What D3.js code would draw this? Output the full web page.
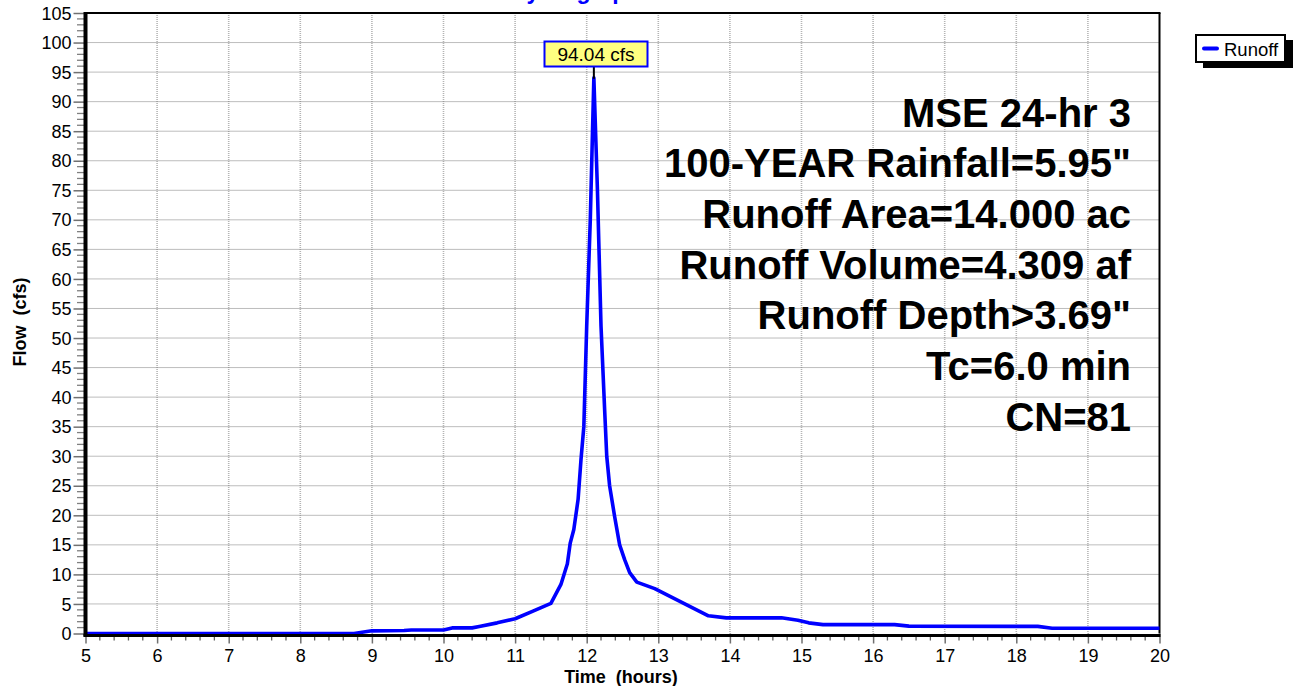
<!DOCTYPE html>
<html>
<head>
<meta charset="utf-8">
<script src="https://cdn.jsdelivr.net/npm/d3@7"></script>
<style>
html,body{margin:0;padding:0;background:#fff;}
svg{display:block;font-family:Arial,"Liberation Sans",sans-serif;}
</style>
</head>
<body>
<svg id="chart" width="1294" height="686"></svg>
<script>
// ---- data ----
const timeHours = [5, 8.75, 9.0, 9.45, 9.55, 10.0, 10.12, 10.4, 10.5, 10.75, 11.0, 11.25, 11.5, 11.64, 11.73, 11.77, 11.82, 11.88, 11.92, 11.96, 12.0, 12.05, 12.1, 12.15, 12.2, 12.25, 12.28, 12.32, 12.39, 12.46, 12.53, 12.6, 12.7, 12.95, 13.7, 13.95, 14.72, 14.95, 15.1, 15.3, 16.3, 16.5, 18.3, 18.5, 20];
const runoffCfs = [0, 0, 0.45, 0.5, 0.6, 0.6, 0.95, 0.95, 1.2, 1.8, 2.5, 3.8, 5.1, 8.3, 11.8, 15.3, 17.6, 22.7, 29.4, 35, 52, 70, 94.04, 75, 52, 38, 30, 25, 19.8, 15, 12.5, 10.3, 8.7, 7.6, 3.0, 2.65, 2.65, 2.25, 1.8, 1.5, 1.5, 1.25, 1.2, 0.9, 0.9];
const xTickValues = [5, 6, 7, 8, 9, 10, 11, 12, 13, 14, 15, 16, 17, 18, 19, 20];
const yTickValues = [0, 5, 10, 15, 20, 25, 30, 35, 40, 45, 50, 55, 60, 65, 70, 75, 80, 85, 90, 95, 100, 105];
const peakTime = 12.1;
const peakFlow = 94.04;
const peakLabel = "94.04 cfs";
const infoLines = ["MSE 24-hr 3", "100-YEAR Rainfall=5.95\"", "Runoff Area=14.000 ac", "Runoff Volume=4.309 af", "Runoff Depth>3.69\"", "Tc=6.0 min", "CN=81"];
const chartTitle = "Hydrograph";
const xTitle = "Time  (hours)";
const yTitle = "Flow  (cfs)";
const seriesName = "Runoff";

// ---- layout ----
const svg = d3.select("#chart");
const L = 85.5, R = 1159.5, T = 13, B = 633.5;
const x = d3.scaleLinear().domain([5, 20]).range([L, R]);
const y = d3.scaleLinear().domain([0, 105]).range([B, T]);

// title (clipped at top, as in the reference)
svg.append("text").attr("x", 510).attr("y", -1)
  .attr("font-size", 23).attr("font-weight", "bold").attr("fill", "#0000ff")
  .text(chartTitle);

// vertical grid
svg.append("g").selectAll("line").data(xTickValues.filter(d => d > 5 && d < 20)).join("line")
  .attr("x1", d => x(d)).attr("x2", d => x(d)).attr("y1", T).attr("y2", B)
  .attr("stroke", "#b4b4b4").attr("stroke-width", 1.6).attr("stroke-dasharray", "1,1");
// horizontal grid
svg.append("g").selectAll("line").data(yTickValues.filter(d => d > 0)).join("line")
  .attr("x1", L).attr("x2", R).attr("y1", d => y(d)).attr("y2", d => y(d))
  .attr("stroke", "#7a7a7a").attr("stroke-width", 1).attr("stroke-dasharray", "1,1");

// minor ticks y
const yMinor = d3.range(0, 106, 1).filter(d => d % 5 !== 0);
svg.append("g").selectAll("line").data(yMinor).join("line")
  .attr("x1", 77).attr("x2", L).attr("y1", d => y(d)).attr("y2", d => y(d))
  .attr("stroke", "#808080").attr("stroke-width", 1.3);
// minor ticks x
const xMinor = d3.range(0, 76).map(i => 5 + i * 0.2).filter(d => Math.abs(d - Math.round(d)) > 0.01);
svg.append("g").selectAll("line").data(xMinor).join("line")
  .attr("x1", d => x(d)).attr("x2", d => x(d)).attr("y1", B + 2).attr("y2", 640.5)
  .attr("stroke", "#606060").attr("stroke-width", 1.3);

// y axis
const yAxis = d3.axisLeft(y).tickValues(yTickValues).tickSize(12).tickPadding(2);
const gy = svg.append("g").attr("transform", `translate(${L},0)`).call(yAxis);
gy.select(".domain").remove();
gy.selectAll(".tick line").attr("stroke", "#707070").attr("stroke-width", 1.5);
gy.selectAll(".tick text").attr("font-size", 18).attr("fill", "#000").attr("font-family", "Arial, 'Liberation Sans', sans-serif").attr("dy", "0.34em");

// x axis
const xAxis = d3.axisBottom(x).tickValues(xTickValues).tickSize(10).tickPadding(5.5);
const gx = svg.append("g").attr("transform", `translate(0,${B})`).call(xAxis);
gx.select(".domain").remove();
gx.selectAll(".tick line").attr("stroke", "#707070").attr("stroke-width", 1.5);
gx.selectAll(".tick text").attr("font-size", 18).attr("fill", "#000").attr("font-family", "Arial, 'Liberation Sans', sans-serif");

// borders
svg.append("line").attr("x1", L).attr("x2", R + 1).attr("y1", T).attr("y2", T).attr("stroke", "#000").attr("stroke-width", 2);
svg.append("line").attr("x1", R).attr("x2", R).attr("y1", T).attr("y2", B).attr("stroke", "#000").attr("stroke-width", 2);

// data line
const line = d3.line().x((d, i) => x(timeHours[i])).y(d => y(d));
svg.append("path").datum(runoffCfs).attr("d", line)
  .attr("fill", "none").attr("stroke", "#0000ff").attr("stroke-width", 3.6).attr("stroke-linejoin", "round");

// axis lines (thick)
svg.append("line").attr("x1", L).attr("x2", L).attr("y1", T - 1).attr("y2", B + 3).attr("stroke", "#000").attr("stroke-width", 4);
svg.append("line").attr("x1", L - 2).attr("x2", R + 1).attr("y1", B + 2).attr("y2", B + 2).attr("stroke", "#000").attr("stroke-width", 3);

// peak label
const px = x(peakTime), py = y(peakFlow);
svg.append("line").attr("x1", px).attr("x2", px).attr("y1", 67).attr("y2", py + 1).attr("stroke", "#000").attr("stroke-width", 2);
svg.append("rect").attr("x", 544.5).attr("y", 41.5).attr("width", 103).attr("height", 25)
  .attr("fill", "#ffff80").attr("stroke", "#0000ff").attr("stroke-width", 2);
svg.append("text").attr("x", 596).attr("y", 60.5).attr("text-anchor", "middle")
  .attr("font-size", 19).attr("fill", "#000").text(peakLabel);

// info text block
svg.append("g").selectAll("text").data(infoLines).join("text")
  .attr("x", 1131).attr("y", (d, i) => 126.5 + i * 50.67)
  .attr("text-anchor", "end").attr("font-size", 40).attr("font-weight", "bold").attr("fill", "#000")
  .text(d => d);

// axis titles
svg.append("text").attr("x", 621).attr("y", 683).attr("text-anchor", "middle")
  .attr("font-size", 18).attr("font-weight", "bold").style("white-space", "pre").text(xTitle);
svg.append("text").attr("transform", "translate(26,322) rotate(-90)").attr("text-anchor", "middle")
  .attr("font-size", 18).attr("font-weight", "bold").style("white-space", "pre").text(yTitle);

// legend
svg.append("rect").attr("x", 1203).attr("y", 40).attr("width", 90).attr("height", 28).attr("fill", "#000");
svg.append("rect").attr("x", 1196).attr("y", 35).attr("width", 89).attr("height", 27)
  .attr("fill", "#fff").attr("stroke", "#000").attr("stroke-width", 2);
svg.append("line").attr("x1", 1204).attr("x2", 1217).attr("y1", 48.5).attr("y2", 48.5)
  .attr("stroke", "#0000ff").attr("stroke-width", 4).attr("stroke-linecap", "round");
svg.append("text").attr("x", 1224).attr("y", 55.5).attr("font-size", 18.5).attr("fill", "#000").text(seriesName);
</script>
</body>
</html>
